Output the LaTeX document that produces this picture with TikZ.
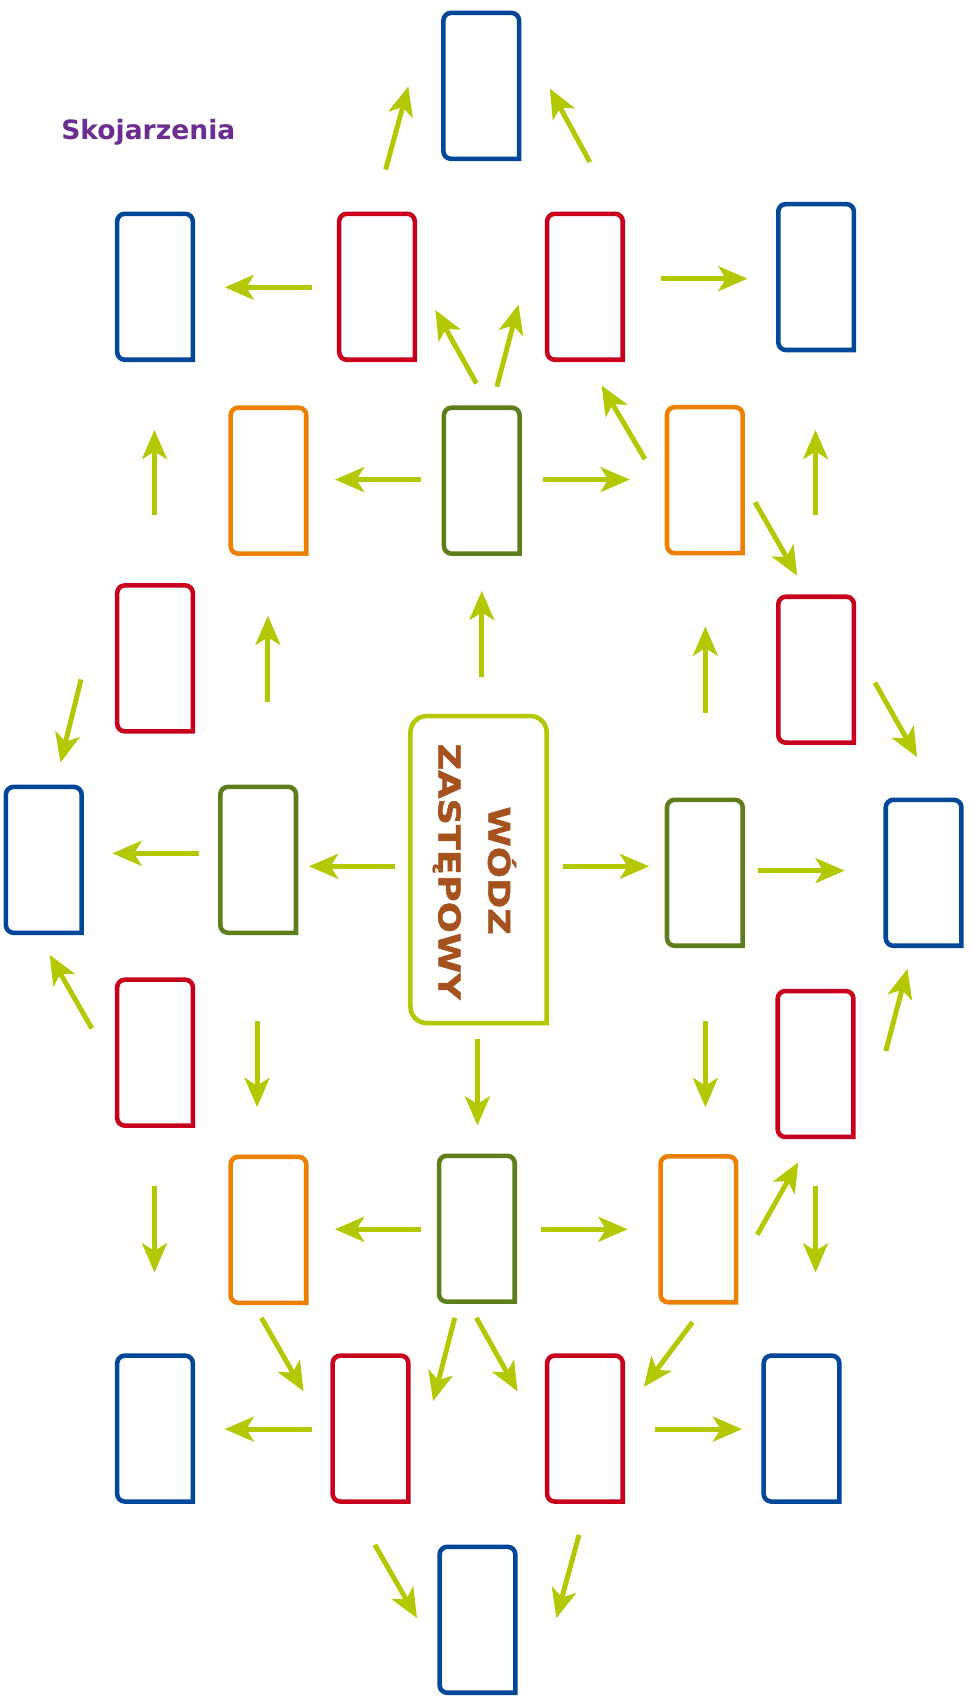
\documentclass[tikz,border=0pt]{standalone}
\usepackage{fontspec}
\setmainfont{DejaVu Sans}
\newfontfamily\chieffont{DejaVu Sans}[BoldFeatures={FakeBold=1.5}]
\usetikzlibrary{arrows.meta}

\definecolor{cardblue}{HTML}{00479A}
\definecolor{cardred}{HTML}{C8001E}
\definecolor{cardorange}{HTML}{EE8000}
\definecolor{cardgreen}{HTML}{5C7F1B}
\definecolor{linklime}{HTML}{B3C800}
\definecolor{titlepurple}{HTML}{6B2D90}
\definecolor{chiefbrown}{HTML}{A5521E}

\begin{document}
\begin{tikzpicture}[x=0.01cm, y=-0.01cm,
		card/.style={minimum width=0.70cm, minimum height=1.35cm, inner sep=0pt, outer sep=0pt},
		cardline/.style={line width=1.2pt, rounded corners=0.07cm, line cap=rect},
		link/.style={draw=linklime, line width=1.3pt, -{Stealth[length=0.27cm, width=0.23cm, inset=0.07cm]}}]
			\useasboundingbox (0,0) rectangle (900,1571);
			
			\node[anchor=base west, inner sep=0pt, text=titlepurple, font=\bfseries\fontsize{7}{8}\selectfont] (title) at (56,129) {Skojarzenia};
			
			\foreach \n/\col/\pos in {t/cardblue/{445.5,79.5}, b1/cardblue/{143.5,265.5}, r1/cardred/{349,265.5}, r2/cardred/{541.5,265.5}, b2/cardblue/{755.5,256.5},
				o1/cardorange/{248.5,445}, g1/cardgreen/{446,445}, o2/cardorange/{652.5,444.5}, r3/cardred/{143.5,609.5}, r4/cardred/{755.5,620},
				b3/cardblue/{40.5,796}, g2/cardgreen/{239,796}, g3/cardgreen/{652.5,808}, b4/cardblue/{855,808}, r5/cardred/{143.5,974.5}, r6/cardred/{755,985},
				o3/cardorange/{248.5,1138.5}, g4/cardgreen/{441.5,1137.5}, o4/cardorange/{646.5,1138}, b5/cardblue/{143.5,1322.5}, r7/cardred/{343,1322.5},
				r8/cardred/{541.5,1322.5}, b6/cardblue/{742,1322.5}, b7/cardblue/{442,1499.5}}
			{
				\node[card] (\n) at (\pos) {};
				\draw[draw=\col, cardline] (\n.south east) -- (\n.north east) -- (\n.north west) -- (\n.south west) -- (\n.south east);
			}
			
			\node[inner sep=0pt, outer sep=0pt, minimum width=1.26cm, minimum height=2.84cm] (wz) at (443,805) {};
			\draw[draw=linklime, line width=1.2pt, rounded corners=0.15cm, line cap=rect] (wz.south east) -- (wz.north east) -- (wz.north west) -- (wz.south west) -- (wz.south east);
			
			\node[rotate=-90, anchor=base, inner sep=0pt, text=chiefbrown, font=\chieffont\bfseries\fontsize{7.9}{9}\selectfont] (wodz) at (452,806) {\scalebox{1.22}[1]{WÓDZ}};
			\node[rotate=-90, anchor=base, inner sep=0pt, text=chiefbrown, font=\chieffont\bfseries\fontsize{7.9}{9}\selectfont] (zast) at (406,807) {\scalebox{1.22}[1]{ZASTĘPOWY}};
			
			\foreach \p/\px/\py/\q/\qx/\qy in {r1/8/-108.5/t/-67.5/0.5, r2/4.5/-115.5/t/63.5/2.5, r1/-60/0.5/b1/64.5/0.5, r2/70.5/-7.5/b2/-63.5/1.5,
				g1/-5/-90/r1/54/21.5, g1/14/-87/r2/-61.5/16.5, g1/-56/-1/o1/61.5/-1, g1/57/-1/o2/-69.5/-0.5,
				o2/-55.5/-19.5/r2/15.5/91.5, r3/-0.5/-132.5/b1/-0.5/132.5, r4/-0.5/-143/b2/-0.5/141.5, o2/46.5/20.5/r4/-17.5/-87,
				wz/3/-178/g1/0/102, g2/9/-146/o1/-0.5/125, g3/0.5/-148/o2/0.5/135.5, r3/-68.5/19.5/b3/15.5/-90,
				r4/54.5/12/b4/-6/-107, g2/-55/-6/b3/63.5/-6, wz/-77/-3/g2/47/6, wz/78/-3/g3/-51.5/-6,
				g3/49.5/-2/b4/-73/-2, r5/-58.5/-22.5/b3/5.5/88, r6/65/-12/b4/-15/89, g2/-1/149/o3/-10.5/-113.5,
				wz/-1/157/g4/0.5/-95.5, g3/0.5/137/o4/6.5/-113, r5/-0.5/123.5/b5/-0.5/-144.5, g4/-51.5/0.5/o3/61.5/-0.5,
				g4/59.5/0.5/o4/-65.5/0, o4/54.5/5/r6/-16/91, r6/0/113/b6/13/-144.5, o3/-6.5/81.5/r7/-62/-34.5,
				g4/-20.5/82.5/r7/58/-25.5, g4/-0.5/82.5/r8/-62.5/-34.5, o4/-5.5/86/r8/54.5/-38.5, r7/-54/0.5/b5/64.5/0.5,
				r8/64.5/0.5/b6/-55/0.5, r7/4/107.5/b7/-56/-1.5, r8/-5.5/98.5/b7/73/-1.5}
			\draw[link] ([shift={(\px,\py)}]\p.center) -- ([shift={(\qx,\qy)}]\q.center);
		\end{tikzpicture}
\end{document}
